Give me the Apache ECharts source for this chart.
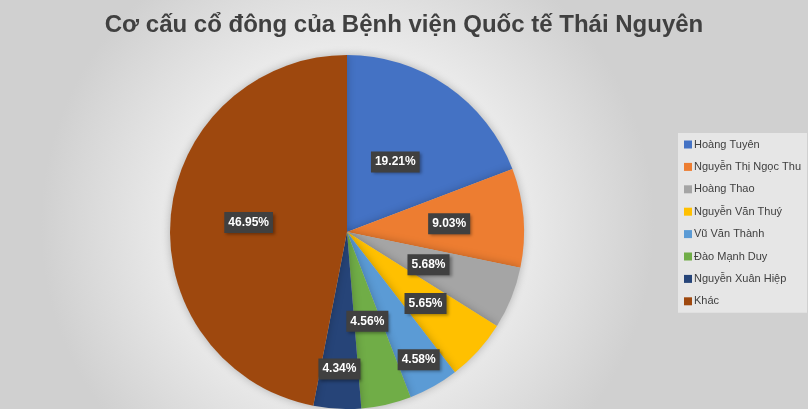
<!DOCTYPE html>
<html>
<head>
<meta charset="utf-8">
<script src="https://cdn.jsdelivr.net/npm/echarts@6/dist/echarts.min.js"></script>
<style>
  html, body { margin: 0; padding: 0; }
  #chart { width: 808px; height: 409px; }
</style>
</head>
<body>
<div id="chart"></div>
<script>
const names = ['Hoàng Tuyên', 'Nguyễn Thị Ngọc Thu', 'Hoàng Thao', 'Nguyễn Văn Thuý',
  'Vũ Văn Thành', 'Đào Mạnh Duy', 'Nguyễn Xuân Hiệp', 'Khác']
const shares = [19.21, 9.03, 5.68, 5.65, 4.58, 4.56, 4.34, 46.95]
const colors = ['#4472C4', '#ED7D31', '#A5A5A5', '#FFC000', '#5B9BD5', '#70AD47', '#264478', '#9E480E']

const CX = 347, CY = 232, R = 177

// Excel "best fit" pushes some labels outward; factor relative to the inside position
const labelPush = [0.93, 1.12, 0.96, 1.16, 1.6, 1, 1.5, 1.08]

const chart = echarts.init(document.getElementById('chart'))

chart.setOption({
  backgroundColor: {
    type: 'radial', x: 0.43, y: 0.55, r: 0.75,
    colorStops: [
      { offset: 0, color: '#ffffff' },
      { offset: 0.45, color: '#f2f2f2' },
      { offset: 1, color: '#d0d0d0' }
    ]
  },
  color: colors,
  title: {
    text: 'Cơ cấu cổ đông của Bệnh viện Quốc tế Thái Nguyên',
    left: 'center', top: 8,
    textStyle: { fontFamily: 'Liberation Sans, Arial', fontSize: 24, fontWeight: 'bold', color: '#404040' }
  },
  legend: {
    orient: 'vertical', left: 678, top: 133,
    width: 126,
    padding: [6, 6, 6, 6],
    backgroundColor: 'rgba(235,235,235,0.8)',
    icon: 'rect', itemWidth: 8, itemHeight: 8, itemGap: 11.4,
    data: names,
    textStyle: { fontFamily: 'Liberation Sans, Arial', fontSize: 11, color: '#404040', padding: [0, 0, 0, -3] }
  },
  series: [{
    type: 'pie',
    center: [CX, CY], radius: R,
    startAngle: 90, clockwise: true,
    itemStyle: { shadowBlur: 8, shadowColor: 'rgba(0,0,0,0.25)', borderWidth: 0 },
    emphasis: { disabled: true },
    label: {
      position: 'inside',
      formatter: p => p.value.toFixed(2) + '%',
      color: '#fff', fontFamily: 'Liberation Sans, Arial', fontSize: 12, fontWeight: 'bold',
      backgroundColor: '#404040', padding: [5, 4, 4, 4],
      shadowBlur: 3, shadowOffsetX: 2, shadowOffsetY: 2, shadowColor: 'rgba(0,0,0,0.35)'
    },
    labelLine: { show: false },
    labelLayout: p => {
      const r = p.labelRect
      const lx = r.x + r.width / 2, ly = r.y + r.height / 2
      const k = labelPush[p.dataIndex]
      return {
        x: CX + (lx - CX) * k, y: CY + (ly - CY) * k,
        align: 'center', verticalAlign: 'middle', hideOverlap: false
      }
    },
    data: names.map((n, i) => ({ name: n, value: shares[i] }))
  }]
})
</script>
</body>
</html>
